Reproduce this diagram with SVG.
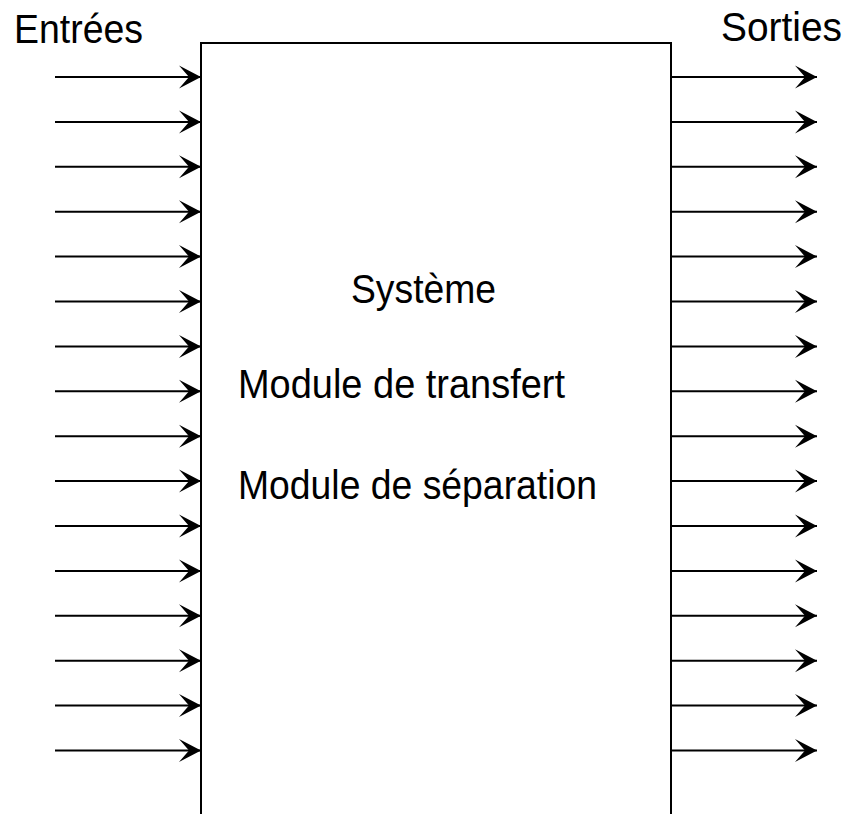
<svg xmlns="http://www.w3.org/2000/svg" width="852" height="814" viewBox="0 0 852 814">
  <style>
    .lbl { font-family: "Liberation Sans", Arial, sans-serif; font-size: 41px; fill: #000; }
    .wire { stroke: #000; stroke-width: 2; fill: none; marker-end: url(#head); }
    .box { stroke: #000; stroke-width: 2; fill: #fff; }
  </style>
  <defs>
    <marker id="head" markerUnits="userSpaceOnUse" viewBox="0 0 22 24" refX="22" refY="12" markerWidth="22" markerHeight="24" orient="auto">
      <path d="M0,0.5 L22,12 L0,23.5 L10,12 Z" fill="#000"/>
    </marker>
  </defs>
  <rect width="852" height="814" fill="#fff"/>

  <!-- system block (open at the bottom) -->
  <g id="systeme">
    <path class="box" d="M201,816 V43 H671 V816"/>
    <text class="lbl" x="351" y="303" textLength="145" lengthAdjust="spacingAndGlyphs">Système</text>
    <text class="lbl" x="238" y="398" textLength="327" lengthAdjust="spacingAndGlyphs">Module de transfert</text>
    <text class="lbl" x="238" y="499" textLength="359" lengthAdjust="spacingAndGlyphs">Module de séparation</text>
  </g>

  <g id="entrees">
    <text class="lbl" x="14" y="43" textLength="129" lengthAdjust="spacingAndGlyphs">Entrées</text>
  </g>
  <g id="sorties">
    <text class="lbl" x="721" y="41" textLength="121" lengthAdjust="spacingAndGlyphs">Sorties</text>
  </g>

  <!-- input and output flows -->
  <g id="connectors">
    <line class="wire" x1="55" y1="77" x2="201" y2="77"/>
    <line class="wire" x1="55" y1="121.9" x2="201" y2="121.9"/>
    <line class="wire" x1="55" y1="166.8" x2="201" y2="166.8"/>
    <line class="wire" x1="55" y1="211.7" x2="201" y2="211.7"/>
    <line class="wire" x1="55" y1="256.6" x2="201" y2="256.6"/>
    <line class="wire" x1="55" y1="301.5" x2="201" y2="301.5"/>
    <line class="wire" x1="55" y1="346.4" x2="201" y2="346.4"/>
    <line class="wire" x1="55" y1="391.3" x2="201" y2="391.3"/>
    <line class="wire" x1="55" y1="436.2" x2="201" y2="436.2"/>
    <line class="wire" x1="55" y1="481.1" x2="201" y2="481.1"/>
    <line class="wire" x1="55" y1="526" x2="201" y2="526"/>
    <line class="wire" x1="55" y1="570.9" x2="201" y2="570.9"/>
    <line class="wire" x1="55" y1="615.8" x2="201" y2="615.8"/>
    <line class="wire" x1="55" y1="660.7" x2="201" y2="660.7"/>
    <line class="wire" x1="55" y1="705.6" x2="201" y2="705.6"/>
    <line class="wire" x1="55" y1="750.5" x2="201" y2="750.5"/>

    <line class="wire" x1="671" y1="77" x2="817" y2="77"/>
    <line class="wire" x1="671" y1="121.9" x2="817" y2="121.9"/>
    <line class="wire" x1="671" y1="166.8" x2="817" y2="166.8"/>
    <line class="wire" x1="671" y1="211.7" x2="817" y2="211.7"/>
    <line class="wire" x1="671" y1="256.6" x2="817" y2="256.6"/>
    <line class="wire" x1="671" y1="301.5" x2="817" y2="301.5"/>
    <line class="wire" x1="671" y1="346.4" x2="817" y2="346.4"/>
    <line class="wire" x1="671" y1="391.3" x2="817" y2="391.3"/>
    <line class="wire" x1="671" y1="436.2" x2="817" y2="436.2"/>
    <line class="wire" x1="671" y1="481.1" x2="817" y2="481.1"/>
    <line class="wire" x1="671" y1="526" x2="817" y2="526"/>
    <line class="wire" x1="671" y1="570.9" x2="817" y2="570.9"/>
    <line class="wire" x1="671" y1="615.8" x2="817" y2="615.8"/>
    <line class="wire" x1="671" y1="660.7" x2="817" y2="660.7"/>
    <line class="wire" x1="671" y1="705.6" x2="817" y2="705.6"/>
    <line class="wire" x1="671" y1="750.5" x2="817" y2="750.5"/>
  </g>
</svg>
